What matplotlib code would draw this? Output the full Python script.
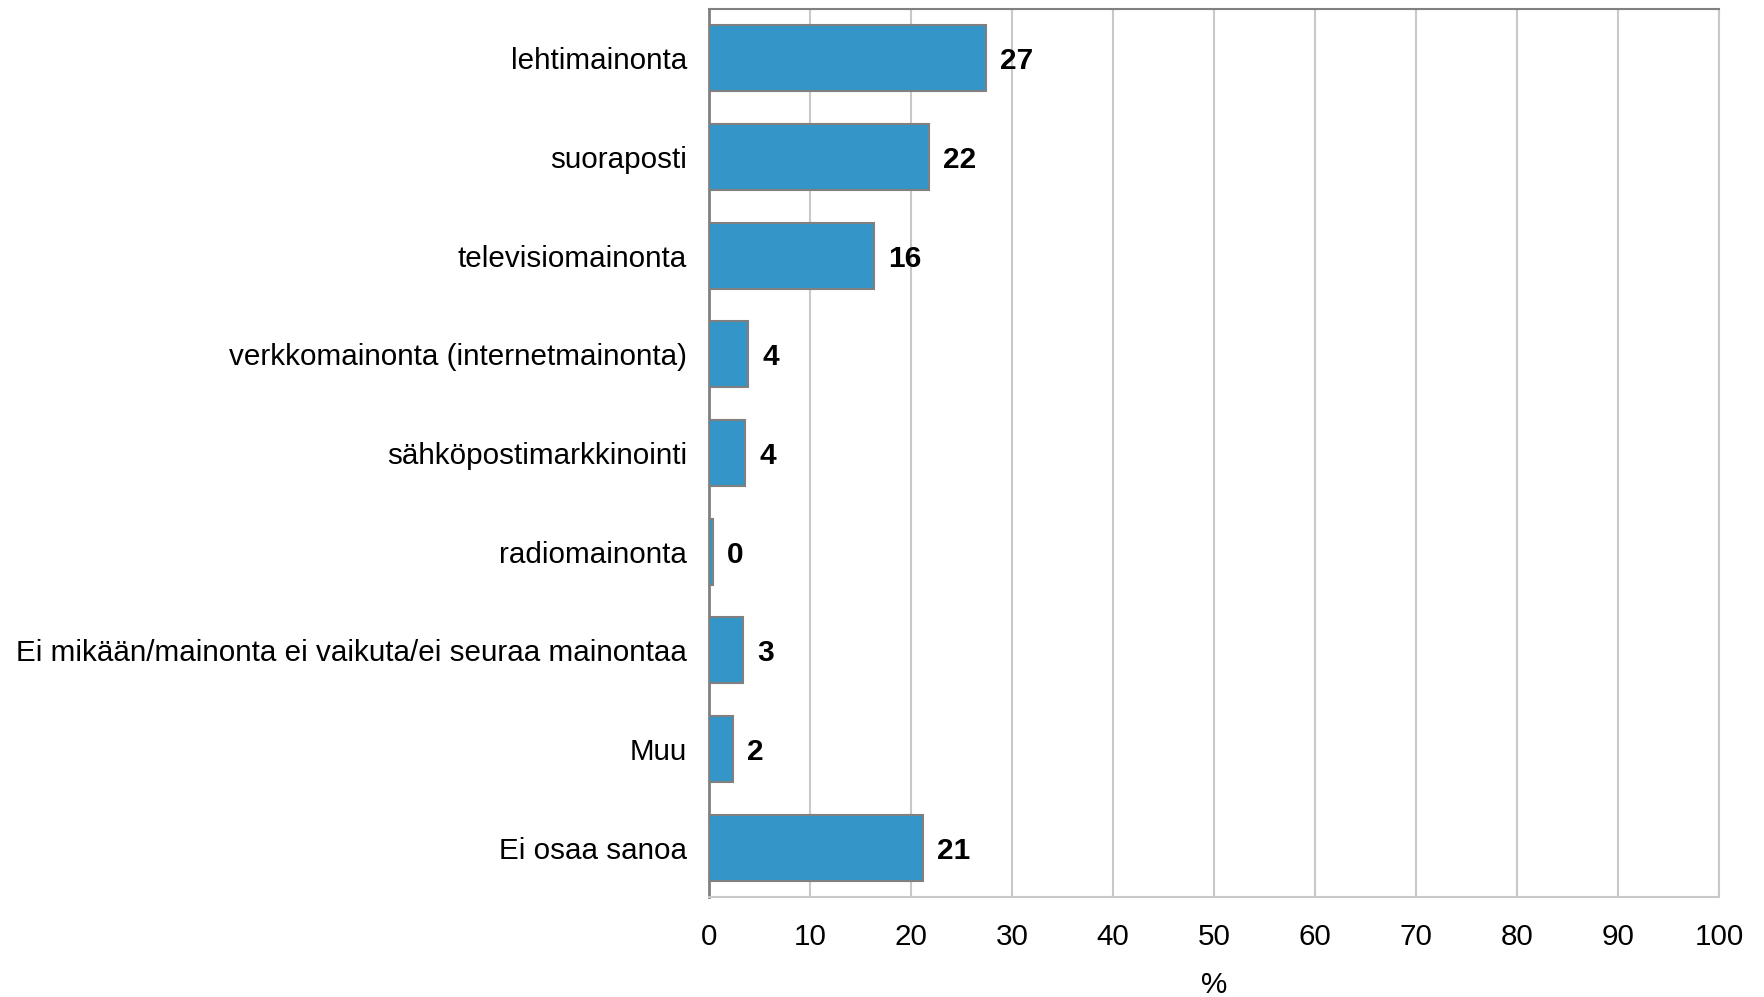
import matplotlib.pyplot as plt

plt.rcParams['font.family'] = ['Liberation Sans', 'DejaVu Sans']

# Mainontakanavat (%)
kanavat = [
    "lehtimainonta",
    "suoraposti",
    "televisiomainonta",
    "verkkomainonta (internetmainonta)",
    "sähköpostimarkkinointi",
    "radiomainonta",
    "Ei mikään/mainonta ei vaikuta/ei seuraa mainontaa",
    "Muu",
    "Ei osaa sanoa",
]
osuudet = [27.4, 21.8, 16.3, 3.9, 3.6, 0.4, 3.4, 2.4, 21.2]
xtiks = list(range(0, 101, 10))

fig = plt.figure(figsize=(17.65, 9.97), dpi=100)
ax = fig.add_axes([0.4017, 0.1003, 0.5722, 0.8907])

y = list(range(len(kanavat)))
ax.barh(y, osuudet, height=0.67, color='#3395c8', edgecolor='#808080',
        linewidth=1.5, zorder=3)

for yi, v in zip(y, osuudet):
    ax.text(v + 1.4, yi, f"{v:.0f}", va='center_baseline', ha='left',
            fontsize=21.5, fontweight='bold', zorder=4)

ax.set_ylim(len(kanavat) - 0.5, -0.5)
ax.set_xlim(0, 100)
ax.set_xticks(xtiks)
ax.set_yticks(y)
ax.set_yticklabels(kanavat, va='center_baseline')
ax.tick_params(axis='both', labelsize=21.3, length=0)
ax.tick_params(axis='x', pad=19)
ax.tick_params(axis='y', pad=16)
ax.set_xlabel('%', fontsize=21.3, labelpad=14)

ax.grid(axis='x', color='#c8c8c8', linewidth=1.5, zorder=0)
for s in ['top', 'right', 'bottom']:
    ax.spines[s].set_color('#c8c8c8')
    ax.spines[s].set_linewidth(1.5)
ax.spines['left'].set_color('#808080')
ax.spines['left'].set_linewidth(2)
ax.spines['top'].set_color('#808080')

fig.savefig('out.png', dpi=100)
